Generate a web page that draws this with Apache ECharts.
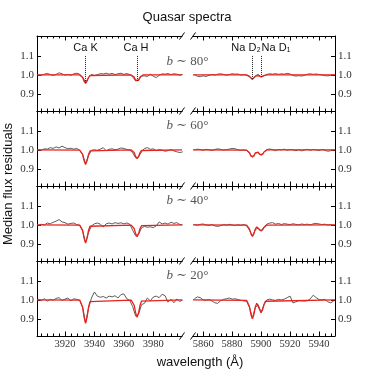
<!DOCTYPE html>
<html>
<head>
<meta charset="utf-8">
<script src="https://cdn.jsdelivr.net/npm/echarts@6/dist/echarts.min.js"></script>
<style>
  html, body { margin: 0; padding: 0; background: #fff; }
  #chart { width: 374px; height: 374px; }
</style>
</head>
<body>
<div id="chart"></div>
<script>
// panel labels (galactic latitude)
const latitudes = ["80", "60", "40", "20"];

// wavelength ranges of the two halves of the broken axis
const leftRange = [3901, 3999.5];
const rightRange = [5853, 5951];
const yRange = [0.81, 1.205];
const leftMajor = [3920, 3940, 3960, 3980];
const rightMajor = [5860, 5880, 5900, 5920, 5940];
const yTicks = [0.9, 1.0, 1.1];

// observed residuals, sampled every 2 A from 3902 (left) and 5854 (right)
const leftStart = 3902, rightStart = 5854, sampleStep = 2;
const grayLeft80 = [1.000, 0.998, 1.004, 1.008, 1.002, 0.997, 1.003, 1.011, 1.006, 0.999, 1.002, 0.998, 1.006, 1.009, 1.004, 0.988, 0.962, 0.985, 1.002, 0.997, 1.001, 1.007, 1.005, 1.009, 1.004, 1.008, 1.002, 1.006, 1.009, 1.003, 1.007, 1.002, 0.990, 0.968, 0.972, 0.994, 0.995, 0.992, 1.004, 0.993, 0.986, 0.998, 1.006, 1.004, 1.007, 1.002, 1.006, 1.004, 0.999, 1.003];
const grayRight80 = [1.002, 0.993, 0.991, 0.995, 0.992, 0.998, 1.002, 0.999, 1.004, 1.006, 1.003, 0.998, 1.002, 1.006, 1.004, 1.005, 0.999, 1.001, 0.998, 0.990, 0.976, 0.995, 1.003, 0.990, 0.996, 1.003, 1.006, 1.004, 1.007, 1.003, 1.006, 1.004, 1.008, 1.005, 0.997, 0.994, 0.996, 0.994, 0.998, 1.004, 1.006, 1.003, 1.005, 1.002, 1.000, 0.996, 0.995, 0.998, 1.001];
const grayLeft60 = [1.002, 0.998, 1.006, 1.004, 1.012, 1.008, 1.016, 1.010, 1.020, 1.012, 1.006, 1.009, 1.004, 1.008, 0.998, 0.975, 0.928, 0.970, 0.998, 1.001, 0.998, 1.004, 1.012, 0.996, 1.003, 1.006, 1.001, 1.004, 1.010, 1.008, 1.002, 0.999, 0.985, 0.958, 0.962, 0.990, 1.008, 1.012, 1.003, 1.006, 0.996, 1.002, 0.999, 0.993, 0.996, 1.002, 0.995, 0.990, 0.986, 0.990];
const grayRight60 = [1.000, 1.004, 1.002, 0.998, 1.003, 1.001, 0.997, 1.002, 1.006, 1.003, 0.999, 1.002, 1.004, 1.008, 1.006, 1.001, 0.998, 1.000, 0.997, 0.983, 0.960, 0.983, 0.986, 0.970, 0.990, 1.002, 1.005, 1.001, 0.996, 1.002, 1.000, 1.004, 0.998, 1.002, 1.000, 0.996, 1.001, 0.995, 1.000, 1.003, 0.998, 1.002, 1.000, 0.997, 1.002, 0.998, 0.993, 0.996, 1.001];
const grayLeft40 = [0.998, 1.003, 1.000, 1.010, 1.006, 1.014, 1.020, 1.028, 1.016, 1.012, 1.004, 1.008, 1.010, 1.002, 0.998, 0.968, 0.908, 0.960, 0.995, 1.006, 1.010, 1.004, 0.989, 1.006, 1.010, 1.005, 1.012, 1.008, 1.011, 1.006, 1.010, 1.004, 0.972, 0.942, 0.950, 0.985, 0.992, 0.988, 0.990, 0.986, 0.995, 1.016, 1.005, 1.010, 1.004, 1.014, 1.008, 1.012, 1.002, 1.000];
const grayRight40 = [1.002, 0.998, 1.003, 1.005, 1.000, 0.997, 1.002, 0.995, 0.992, 0.996, 1.002, 0.999, 1.003, 1.000, 0.997, 1.001, 0.998, 1.002, 0.996, 0.972, 0.942, 0.974, 0.985, 0.966, 0.990, 1.004, 1.010, 1.012, 1.004, 1.008, 1.002, 1.007, 1.004, 1.002, 1.006, 1.003, 1.000, 1.005, 1.002, 1.004, 1.000, 1.006, 1.008, 1.005, 1.002, 1.004, 0.999, 1.001, 0.998];
const grayLeft20 = [1.004, 0.996, 1.006, 0.994, 1.003, 0.998, 1.008, 1.012, 0.997, 1.004, 1.010, 0.995, 1.006, 1.003, 0.998, 0.960, 0.880, 0.955, 1.010, 1.042, 1.020, 1.014, 1.018, 1.010, 1.020, 1.016, 1.022, 1.010, 1.028, 1.032, 1.006, 0.998, 0.965, 0.915, 0.925, 0.975, 0.982, 1.010, 0.995, 1.015, 1.020, 1.012, 1.030, 1.022, 0.988, 1.004, 0.985, 1.005, 0.992, 1.000];
const grayRight20 = [1.006, 1.016, 1.012, 1.000, 0.998, 1.002, 0.995, 0.985, 0.982, 0.995, 1.003, 1.006, 1.010, 1.004, 1.006, 1.002, 0.998, 0.995, 0.993, 0.960, 0.905, 0.960, 0.975, 0.935, 0.975, 1.000, 1.004, 1.000, 0.998, 1.003, 1.000, 1.004, 1.012, 1.020, 0.984, 0.990, 0.996, 0.995, 0.994, 0.996, 1.006, 1.025, 1.012, 1.002, 1.000, 1.003, 0.990, 0.985, 0.993];

// model profiles, sampled every 1 A: Ca K 3930-3938, Ca H 3965-3973, Na D 5890-5904
const caK = 3934, caH = 3969, naD2 = 5894, naD1 = 5900;
const redCaK80 = [1.000, 0.997, 0.986, 0.967, 0.955, 0.967, 0.986, 0.997, 1.000];
const redCaH80 = [1.000, 0.997, 0.989, 0.972, 0.963, 0.972, 0.989, 0.997, 1.000];
const redNa80 = [1.000, 0.998, 0.992, 0.982, 0.977, 0.982, 0.992, 0.997, 0.996, 0.992, 0.990, 0.992, 0.996, 0.999, 1.000];
const redCaK60 = [0.999, 0.995, 0.976, 0.943, 0.923, 0.943, 0.976, 0.995, 0.999];
const redCaH60 = [1.000, 0.997, 0.986, 0.966, 0.954, 0.966, 0.986, 0.997, 1.000];
const redNa60 = [0.999, 0.996, 0.985, 0.967, 0.958, 0.967, 0.984, 0.993, 0.988, 0.977, 0.970, 0.977, 0.989, 0.997, 1.000];
const redCaK40 = [0.999, 0.993, 0.971, 0.929, 0.904, 0.929, 0.971, 0.993, 0.999];
const redCaH40 = [0.999, 0.996, 0.981, 0.954, 0.938, 0.954, 0.981, 0.996, 0.999];
const redNa40 = [0.999, 0.994, 0.978, 0.953, 0.940, 0.953, 0.978, 0.990, 0.986, 0.973, 0.965, 0.973, 0.987, 0.996, 0.999];
const redCaK20 = [0.999, 0.991, 0.962, 0.908, 0.877, 0.908, 0.962, 0.991, 0.999];
const redCaH20 = [0.999, 0.994, 0.972, 0.932, 0.909, 0.932, 0.972, 0.994, 0.999];
const redNa20 = [0.998, 0.990, 0.964, 0.922, 0.900, 0.922, 0.963, 0.983, 0.974, 0.948, 0.933, 0.948, 0.976, 0.993, 0.999];

const grayRows = [
  [grayLeft80, grayRight80], [grayLeft60, grayRight60],
  [grayLeft40, grayRight40], [grayLeft20, grayRight20]
];
const redRows = [
  [redCaK80, redCaH80, redNa80], [redCaK60, redCaH60, redNa60],
  [redCaK40, redCaH40, redNa40], [redCaK20, redCaH20, redNa20]
];

const SERIF = "'Liberation Serif', 'DejaVu Serif', serif";
const SANS = "'Liberation Sans', 'DejaVu Sans', sans-serif";

// minor ticks every 4 A
function minorTicks(range, majors) {
  const out = [];
  for (let v = Math.ceil(range[0] / 4) * 4; v <= range[1]; v += 4) {
    if (majors.indexOf(v) === -1) out.push(v);
  }
  return out;
}

function sampled(start, values) {
  return values.map((v, i) => [start + i * sampleStep, v]);
}

function profile(start, values) {
  return values.map((v, i) => [start + i, v]);
}

// short inward ticks on top and bottom edge of a panel
function renderMinor(params, api) {
  const b = api.coord([api.value(0), yRange[0]]);
  const t = api.coord([api.value(0), yRange[1]]);
  const x = Math.round(b[0]) + 0.5;
  const st = { stroke: "#000", lineWidth: 1 };
  return {
    type: "group",
    children: [
      { type: "line", shape: { x1: x, y1: b[1], x2: x, y2: b[1] - 2.5 }, style: st },
      { type: "line", shape: { x1: x, y1: t[1], x2: x, y2: t[1] + 2.5 }, style: st }
    ]
  };
}

const chart = echarts.init(document.getElementById("chart"));

const grids = [], xAxes = [], yAxes = [], series = [];
const rowTop = 36, rowH = 75;

for (let r = 0; r < 4; r++) {
  for (let c = 0; c < 2; c++) {
    const g = r * 2 + c;
    const range = c ? rightRange : leftRange;
    const majors = c ? rightMajor : leftMajor;
    const minors = minorTicks(range, majors);
    grids.push({
      left: c ? 193 : 37,
      width: c ? 142 : 145,
      top: rowTop + rowH * r,
      height: rowH
    });
    const line = { show: true, onZero: false, lineStyle: { color: "#000", width: 1 } };
    ["bottom", "top"].forEach((pos) => {
      xAxes.push({
        gridIndex: g, type: "value", min: range[0], max: range[1],
        position: pos,
        splitLine: { show: false },
        axisLine: line,
        axisTick: { show: true, inside: true, length: 4.5, customValues: majors, lineStyle: { color: "#000", width: 1 } },
        axisLabel: {
          show: r === 3 && pos === "bottom", customValues: majors, margin: 3,
          formatter: (v) => String(v),
          fontFamily: SERIF, fontSize: 10.5, color: "#333"
        }
      });
    });
    yAxes.push({
      gridIndex: g, type: "value", min: yRange[0], max: yRange[1],
      position: c ? "right" : "left",
      splitLine: { show: false },
      axisLine: line,
      axisTick: { show: true, inside: true, length: 4, customValues: yTicks, lineStyle: { color: "#000", width: 1 } },
      axisLabel: {
        customValues: yTicks, formatter: (v) => v.toFixed(1), margin: 3,
        fontFamily: SERIF, fontSize: 11, color: "#333"
      }
    });

    // minor ticks
    series.push({
      type: "custom", xAxisIndex: g * 2, yAxisIndex: g, silent: true, clip: false,
      renderItem: renderMinor, encode: { x: 0, y: 1 },
      data: minors.map((v) => [v, 1])
    });

    // observed
    const gray = {
      type: "line", xAxisIndex: g * 2, yAxisIndex: g, showSymbol: false,
      data: sampled(c ? rightStart : leftStart, grayRows[r][c]),
      lineStyle: { color: "#5c5c5c", width: 1 }, z: 2
    };
    if (r === 0) {
      const dotted = c
        ? [[naD2, 0.978], [naD1, 0.99]]
        : [[caK, 0.96], [caH, 0.968]];
      gray.markLine = {
        silent: true, symbol: "none", label: { show: false },
        lineStyle: { color: "#222", width: 1, type: "dotted" },
        data: dotted.map((d) => [{ coord: [d[0], 1.1] }, { coord: [d[0], d[1]] }])
      };
    }
    series.push(gray);

    // model
    const red = redRows[r];
    const redData = c
      ? [[range[0], 1]].concat(profile(naD2 - 4, red[2]), [[range[1], 1]])
      : [[range[0], 1]].concat(profile(caK - 4, red[0]), profile(caH - 4, red[1]), [[range[1], 1]]);
    series.push({
      type: "line", xAxisIndex: g * 2, yAxisIndex: g, showSymbol: false,
      data: redData, lineStyle: { color: "#e8221c", width: 1.3 }, z: 3
    });
  }
}

// break marks on the broken x axis
const graphics = [];
for (let r = 0; r <= 4; r++) {
  const y = rowTop + rowH * r;
  [182, 193].forEach((x) => {
    graphics.push({
      type: "line", silent: true,
      shape: { x1: x - 2.5, y1: y + 3.5, x2: x + 2.5, y2: y - 3.5 },
      style: { stroke: "#000", lineWidth: 1 }
    });
  });
}

// panel labels
latitudes.forEach((lat, r) => {
  graphics.push({
    type: "text", silent: true,
    x: 187.5, y: r === 0 ? 61.5 : rowTop + rowH * r + 14.5,
    style: {
      text: "{i|b} \u223C " + lat + "\u00B0",
      align: "center", verticalAlign: "middle",
      fontFamily: SERIF, fontSize: 13, fill: "#555",
      rich: { i: { fontStyle: "italic", fontFamily: SERIF, fontSize: 13, color: "#555" } }
    }
  });
});

// line labels
[["Ca K", 85.5], ["Ca H", 136], ["Na D\u2082", 246], ["Na D\u2081", 276]].forEach((t) => {
  graphics.push({
    type: "text", silent: true, x: t[1], y: 48,
    style: { text: t[0], align: "center", verticalAlign: "middle", fontFamily: SANS, fontSize: 11, fill: "#111" }
  });
});

// axis titles
graphics.push({
  type: "text", silent: true, x: 8, y: 184, rotation: Math.PI / 2,
  style: { text: "Median flux residuals", align: "center", verticalAlign: "middle", fontFamily: SANS, fontSize: 13, fill: "#111" }
});
graphics.push({
  type: "text", silent: true, x: 200, y: 362,
  style: { text: "wavelength (\u00C5)", align: "center", verticalAlign: "middle", fontFamily: SANS, fontSize: 13, fill: "#111" }
});

chart.setOption({
  animation: false,
  backgroundColor: "#fff",
  title: {
    text: "Quasar spectra", left: "center", top: 6,
    textStyle: { fontFamily: SANS, fontSize: 13, fontWeight: "normal", color: "#111" }
  },
  grid: grids,
  xAxis: xAxes,
  yAxis: yAxes,
  series: series,
  graphic: graphics
});
</script>
</body>
</html>
